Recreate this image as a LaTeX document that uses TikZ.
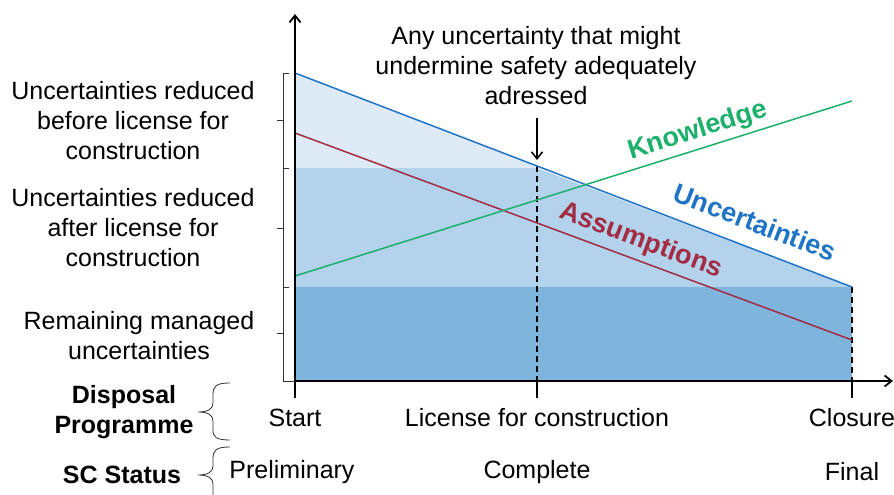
\documentclass[tikz,border=0pt]{standalone}
\usepackage{fontspec}
\setmainfont{Liberation Sans}
\usetikzlibrary{arrows.meta}
\definecolor{lightfill}{HTML}{DEEBF7}
\definecolor{midfill}{HTML}{B3D2EC}
\definecolor{darkfill}{HTML}{7FB4DC}
\definecolor{uncblue}{HTML}{1F74C6}
\definecolor{knowgreen}{HTML}{1DB06A}
\definecolor{assred}{HTML}{A32B42}
\tikzset{
  lbl/.style={font=\fontsize{25}{30}\selectfont, align=center, inner sep=0pt},
  blbl/.style={font=\fontsize{25}{30}\selectfont\bfseries, align=center, inner sep=0pt},
  curvelbl/.style={font=\fontsize{27}{30}\selectfont\bfseries, inner sep=0pt},
  axis/.style={line width=1.8pt, -{Straight Barb[length=7pt,width=11pt,line width=1.8pt]}},
  tickline/.style={line width=1.5pt},
  brk/.style={line width=0.8pt, black!80},
  dashline/.style={line width=1.5pt, dash pattern=on 6pt off 4pt},
}
\begin{document}
\begin{tikzpicture}[x=1pt,y=-1pt]
\useasboundingbox (0,0) rectangle (894,495);
% key coordinates
\coordinate (u0) at (295,73);
\coordinate (u1) at (852,287);
\coordinate (uc) at (537,166);
\coordinate (a0) at (295,133);
\coordinate (a1) at (852,340);
\coordinate (k0) at (295,276);
\coordinate (k1) at (852,101);
\coordinate (o) at (295,381);
% fills
\fill[lightfill] (u0) -- (uc) -- (537,168) -- (295,168) -- cycle;
\fill[midfill] (295,168) -- (537,168) -- (u1) -- (295,287) -- cycle;
\fill[darkfill] (295,287) rectangle (852,381);
% dashed verticals
\draw[dashline] (uc) -- (537,381);
\draw[dashline] (u1) -- (852,381);
% curves
\draw[uncblue, line width=1.5pt] (u0) -- (u1);
\draw[assred, line width=1.5pt] (a0) -- (a1);
\draw[knowgreen, line width=1.5pt] (k0) -- (k1);
% axes
\coordinate (ytip) at (295,14);
\coordinate (xtip) at (893,381);
\draw[axis] (295,382) -- (ytip);
\draw[axis] (294,381) -- (xtip);
\draw[tickline] (295,381) -- (295,398);
\draw[tickline] (537,381) -- (537,398);
\draw[tickline] (852,381) -- (852,398);
% arrow
\coordinate (arr0) at (537,118);
\draw[line width=1.5pt, -{Straight Barb[length=7pt,width=11pt,line width=1.5pt]}] (arr0) -- (537,160);
% left brackets
\draw[brk] (289,73) -- (283,73) -- (283,168) -- (289,168);
\draw[brk] (283,120) -- (277,120);
\draw[brk] (283,168) -- (283,287) -- (289,287);
\draw[brk] (283,228) -- (277,228);
\draw[brk] (283,287) -- (283,381) -- (295,381);
\draw[brk] (283,333) -- (277,333);
% curly braces
\draw[brk] (230,383) .. controls (216,383) and (213,386) .. (213,395) -- (213,403) .. controls (213,409) and (208,412) .. (198,412) .. controls (208,412) and (213,415) .. (213,421) -- (213,430) .. controls (213,437) and (216,440) .. (230,440);
\draw[brk] (230,447) .. controls (216,447) and (213,450) .. (213,459) -- (213,466) .. controls (213,472) and (208,475) .. (198,475) .. controls (208,475) and (213,478) .. (213,484) -- (213,500);
% texts
\node[lbl] (note) at (536,66) {Any uncertainty that might\\undermine safety adequately\\adressed};
\node[lbl] (l1) at (133,121) {Uncertainties reduced\\before license for\\construction};
\node[lbl] (l2) at (133,228) {Uncertainties reduced\\after license for\\construction};
\node[lbl] (l3) at (139,336) {Remaining managed\\uncertainties};
\node[blbl] (dp) at (124,412) {Disposal\\Programme};
\node[blbl] (sc) at (122,475) {SC Status};
\node[lbl] (start) at (295,418) {Start};
\node[lbl] (lic) at (537,418) {License for construction};
\node[lbl] (clo) at (852,418) {Closure};
\node[lbl] (pre) at (292,472) {Preliminary};
\node[lbl] (comp) at (537,472) {Complete};
\node[lbl] (fin) at (852,472) {Final};
\node[curvelbl, text=knowgreen, rotate=17.4] (know) at (698,131) {Knowledge};
\node[curvelbl, text=uncblue, rotate=-21] (unc) at (755,222) {Uncertainties};
\node[curvelbl, text=assred, rotate=-20.4] (ass) at (641,241) {Assumptions};
\end{tikzpicture}
\end{document}
